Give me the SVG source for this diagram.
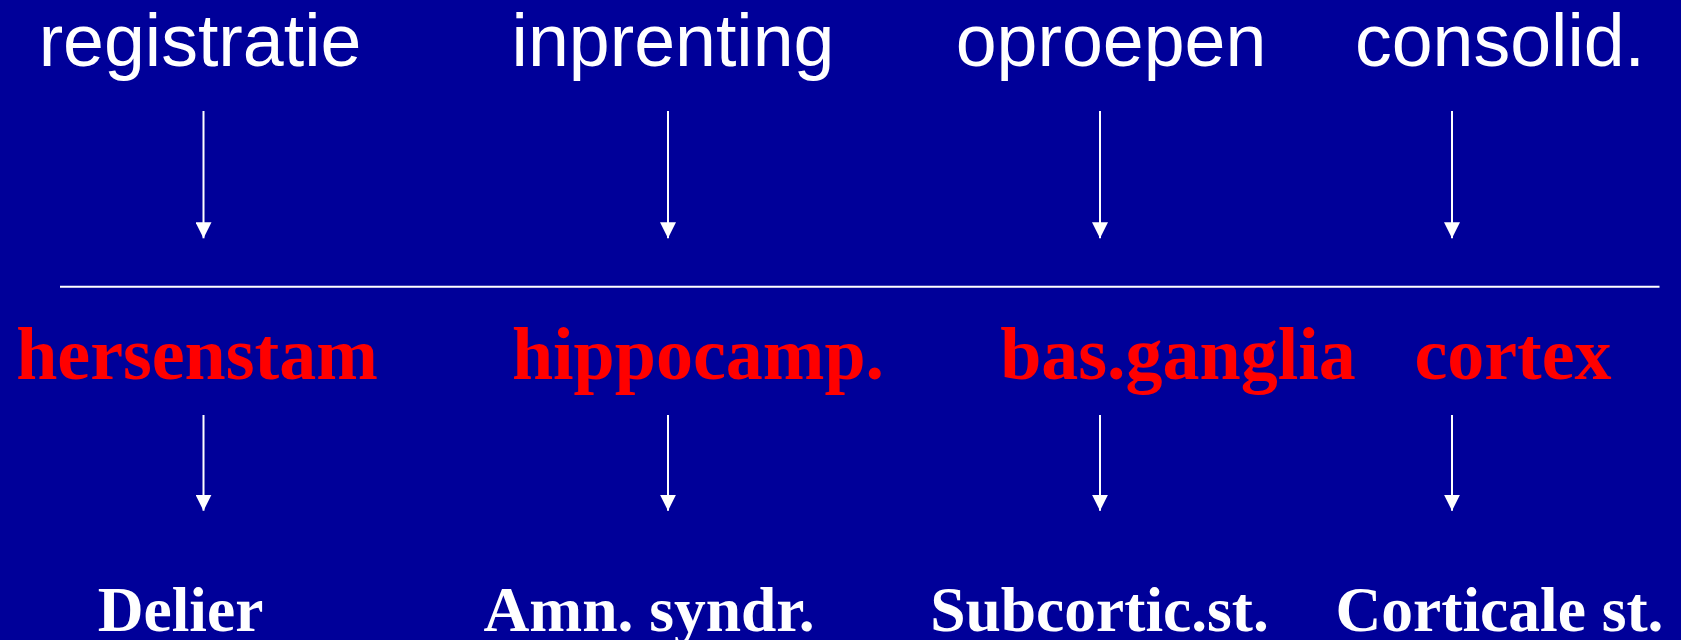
<svg xmlns="http://www.w3.org/2000/svg" width="1681" height="640" viewBox="0 0 1681 640">
  <style>
    .stage { font-family: "Liberation Sans", Arial, sans-serif; font-size: 73.5px; fill: #ffffff; text-anchor: middle; }
    .region { font-family: "Liberation Serif", "Times New Roman", serif; font-weight: bold; font-size: 74px; fill: #ff0000; text-anchor: middle; }
    .disorder { font-family: "Liberation Serif", "Times New Roman", serif; font-weight: bold; font-size: 63.5px; fill: #ffffff; text-anchor: middle; }
    .conn { stroke: #ffffff; stroke-width: 2; fill: none; }
  </style>
  <defs>
    <marker id="head" markerUnits="userSpaceOnUse" markerWidth="16" markerHeight="16" refX="16" refY="8" orient="auto">
      <path d="M0,0 L16,8 L0,16 z" fill="#ffffff"/>
    </marker>
  </defs>
  <rect width="1681" height="640" fill="#000099"/>

  <!-- memory stages -->
  <g id="stage-registratie"><text class="stage" x="200" y="65.7">registratie</text></g>
  <g id="stage-inprenting"><text class="stage" x="673" y="65.7">inprenting</text></g>
  <g id="stage-oproepen"><text class="stage" x="1111" y="65.7">oproepen</text></g>
  <g id="stage-consolid"><text class="stage" x="1500" y="65.7">consolid.</text></g>

  <!-- divider -->
  <line x1="60" y1="286.7" x2="1659.5" y2="286.7" stroke="#ffffff" stroke-width="2"/>

  <!-- brain regions -->
  <g id="region-hersenstam"><text class="region" x="197" y="379.3">hersenstam</text></g>
  <g id="region-hippocamp"><text class="region" x="698" y="379.3">hippocamp.</text></g>
  <g id="region-basganglia"><text class="region" x="1178" y="379.3">bas.ganglia</text></g>
  <g id="region-cortex"><text class="region" x="1513" y="379.3">cortex</text></g>

  <!-- disorders -->
  <g id="disorder-delier"><text class="disorder" x="180.5" y="630.7">Delier</text></g>
  <g id="disorder-amn"><text class="disorder" x="649" y="630.7">Amn. syndr.</text></g>
  <g id="disorder-subcortic"><text class="disorder" x="1099.5" y="630.7">Subcortic.st.</text></g>
  <g id="disorder-corticale"><text class="disorder" x="1499.5" y="630.7">Corticale st.</text></g>

  <!-- connectors -->
  <g id="connectors" class="conn">
    <line x1="203.5" y1="111" x2="203.5" y2="238.3" marker-end="url(#head)"/>
    <line x1="668" y1="111" x2="668" y2="238.3" marker-end="url(#head)"/>
    <line x1="1100" y1="111" x2="1100" y2="238.3" marker-end="url(#head)"/>
    <line x1="1452" y1="111" x2="1452" y2="238.3" marker-end="url(#head)"/>
    <line x1="203.5" y1="415" x2="203.5" y2="510.7" marker-end="url(#head)"/>
    <line x1="668" y1="415" x2="668" y2="510.7" marker-end="url(#head)"/>
    <line x1="1100" y1="415" x2="1100" y2="510.7" marker-end="url(#head)"/>
    <line x1="1452" y1="415" x2="1452" y2="510.7" marker-end="url(#head)"/>
  </g>
</svg>
